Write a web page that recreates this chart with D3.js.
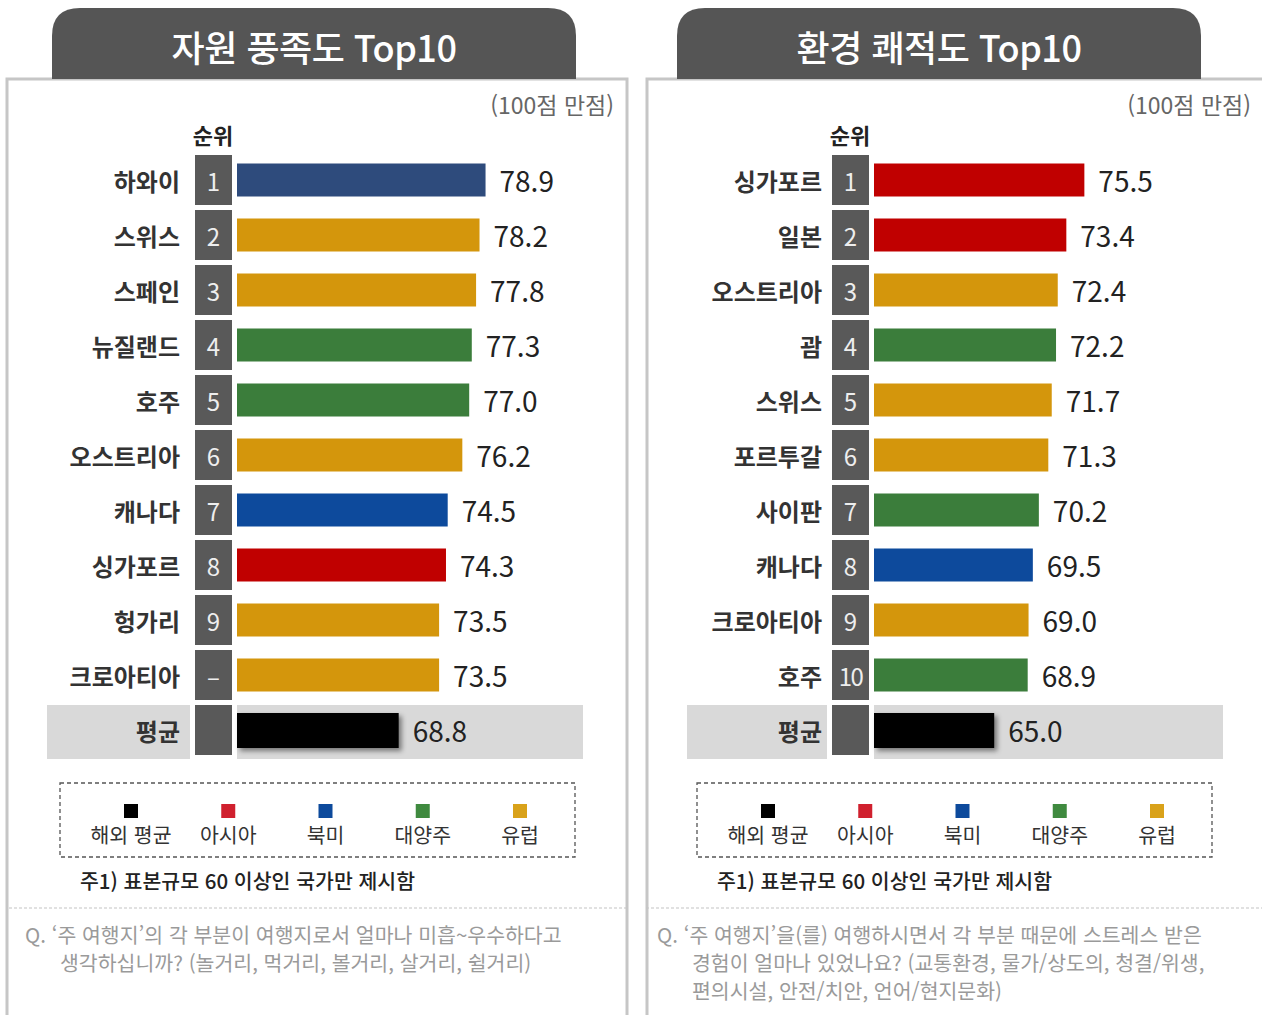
<!DOCTYPE html>
<html lang="ko">
<head>
  <meta charset="UTF-8">
  <title>Top10</title>
  <script src="https://d3js.org/d3.v7.min.js"></script>
  <style>
    body { margin: 0; background: #fff; }
    svg { display: block; font-family: "Noto Sans CJK KR", "Noto Sans", sans-serif; }
  </style>
</head>
<body>
<svg id="chart" width="1262" height="1015"></svg>
<script>
// 자원 풍족도 Top10
const leftTitle = "자원 풍족도 Top10";
const leftCountries = ["하와이", "스위스", "스페인", "뉴질랜드", "호주", "오스트리아", "캐나다", "싱가포르", "헝가리", "크로아티아"];
const leftValues = [78.9, 78.2, 77.8, 77.3, 77.0, 76.2, 74.5, 74.3, 73.5, 73.5];
const leftRanks = ["1", "2", "3", "4", "5", "6", "7", "8", "9", "–"];
const leftRegions = ["북미", "유럽", "유럽", "대양주", "대양주", "유럽", "북미", "아시아", "유럽", "유럽"];
const leftAverage = 68.8;
const leftQuestion = ["Q. ‘주 여행지’의 각 부분이 여행지로서 얼마나 미흡~우수하다고",
                      "생각하십니까?  (놀거리, 먹거리, 볼거리, 살거리, 쉴거리)"];

// 환경 쾌적도 Top10
const rightTitle = "환경 쾌적도 Top10";
const rightCountries = ["싱가포르", "일본", "오스트리아", "괌", "스위스", "포르투갈", "사이판", "캐나다", "크로아티아", "호주"];
const rightValues = [75.5, 73.4, 72.4, 72.2, 71.7, 71.3, 70.2, 69.5, 69.0, 68.9];
const rightRanks = ["1", "2", "3", "4", "5", "6", "7", "8", "9", "10"];
const rightRegions = ["아시아", "아시아", "유럽", "대양주", "유럽", "유럽", "대양주", "북미", "유럽", "대양주"];
const rightAverage = 65.0;
const rightQuestion = ["Q. ‘주 여행지’을(를) 여행하시면서 각 부분 때문에 스트레스 받은",
                       "경험이 얼마나 있었나요? (교통환경, 물가/상도의, 청결/위생,",
                       "편의시설, 안전/치안, 언어/현지문화)"];

const legendLabels = ["해외 평균", "아시아", "북미", "대양주", "유럽"];
const avgLabel = "평균";

const regionColor = {
  "해외 평균": "#000000",
  "아시아": "#c00000",
  "북미": "#0d4a9c",
  "대양주": "#3b7d3b",
  "유럽": "#d4960c"
};
const barColorOverride = { "하와이": "#2e4b7c" };
const legendColor = { "해외 평균": "#000", "아시아": "#d0202e", "북미": "#0d4a9c", "대양주": "#3f8a3f", "유럽": "#d9a21a" };

const svg = d3.select("#chart");
const fmt = d3.format(".1f");

const defs = svg.append("defs");
const shadow = defs.append("filter").attr("id", "shadow")
  .attr("x", "-10%").attr("y", "-30%").attr("width", "130%").attr("height", "180%");
shadow.append("feDropShadow").attr("dx", 3).attr("dy", 3).attr("stdDeviation", 2.5)
  .attr("flood-color", "#000").attr("flood-opacity", 0.45);

function tabPath(x0, x1, y0, y1, r) {
  return `M${x0},${y1} L${x0},${y0 + r} Q${x0},${y0} ${x0 + r},${y0} L${x1 - r},${y0} Q${x1},${y0} ${x1},${y0 + r} L${x1},${y1} Z`;
}

function drawPanel(p) {
  const g = svg.append("g").attr("transform", `translate(${p.dx},0)`);

  // panel frame
  g.append("rect")
    .attr("x", p.frameX).attr("y", 79).attr("width", p.frameW).attr("height", 960)
    .attr("fill", "#fff").attr("stroke", "#c6c6c6").attr("stroke-width", 3);

  // title tab
  g.append("path")
    .attr("d", tabPath(52 + p.tabShift, 576 + p.tabShift, 8, 79, 28))
    .attr("fill", "#555555");
  g.append("text")
    .attr("x", 314 + p.tabShift).attr("y", 46)
    .attr("text-anchor", "middle").attr("dominant-baseline", "central")
    .attr("fill", "#fff").attr("font-size", 36).attr("font-weight", 500)
    .attr("letter-spacing", -0.5)
    .text(p.title);

  g.append("text")
    .attr("x", 614).attr("y", 104)
    .attr("text-anchor", "end").attr("dominant-baseline", "central")
    .attr("fill", "#666").attr("font-size", 23)
    .text("(100점 만점)");

  g.append("text")
    .attr("x", 213).attr("y", 134)
    .attr("text-anchor", "middle").attr("dominant-baseline", "central")
    .attr("fill", "#222").attr("font-size", 22).attr("font-weight", 700)
    .text("순위");

  const rows = p.countries.map((c, i) => ({
    country: c, value: p.values[i], rank: p.ranks[i],
    color: barColorOverride[c] && p.useOverride ? barColorOverride[c] : regionColor[p.regions[i]]
  }));
  rows.push({ country: avgLabel, value: p.average, rank: "", color: regionColor["해외 평균"], avg: true });

  const y = d3.scalePoint()
    .domain(rows.map(d => d.country))
    .range([180, 730]);

  const x = d3.scaleLinear()
    .domain(p.domain)
    .range([237, 237 + p.width]);

  // average row background
  g.append("rect").attr("x", 47 + p.bgShift).attr("y", 705).attr("width", 143 - p.bgShift).attr("height", 54).attr("fill", "#d9d9d9");
  g.append("rect").attr("x", 237).attr("y", 705).attr("width", 346 + p.bgShift).attr("height", 54).attr("fill", "#d9d9d9");

  // rank boxes
  g.append("g").selectAll("rect")
    .data(rows)
    .join("rect")
    .attr("x", 195).attr("width", 37)
    .attr("y", d => y(d.country) - 25)
    .attr("height", 50)
    .attr("fill", "#595959");

  g.append("g").selectAll("text")
    .data(rows.filter(d => !d.avg))
    .join("text")
    .attr("x", 213.5).attr("y", d => y(d.country))
    .attr("text-anchor", "middle").attr("dominant-baseline", "central")
    .attr("fill", "#eee").attr("font-size", 24)
    .attr("letter-spacing", d => d.rank.length > 1 ? -1.5 : 0)
    .text(d => d.rank);

  // country labels
  g.append("g").selectAll("text")
    .data(rows)
    .join("text")
    .attr("x", 180 + p.labelShift).attr("y", d => y(d.country))
    .attr("text-anchor", "end").attr("dominant-baseline", "central")
    .attr("fill", "#333").attr("font-size", 24).attr("font-weight", 700)
    .text(d => d.country);

  // bars
  g.append("g").selectAll("rect")
    .data(rows)
    .join("rect")
    .attr("x", x(p.domain[0]))
    .attr("y", d => y(d.country) - (d.avg ? 17 : 16.5))
    .attr("height", d => d.avg ? 35 : 33)
    .attr("width", d => x(d.value) - x(p.domain[0]))
    .attr("fill", d => d.color)
    .attr("filter", d => d.avg ? "url(#shadow)" : null);

  // value labels
  g.append("g").selectAll("text")
    .data(rows)
    .join("text")
    .attr("x", d => x(d.value) + 14)
    .attr("y", d => y(d.country))
    .attr("dominant-baseline", "central")
    .attr("fill", "#222").attr("font-size", 28)
    .text(d => fmt(d.value));

  // legend
  g.append("rect")
    .attr("x", 60).attr("y", 783).attr("width", 515).attr("height", 74)
    .attr("fill", "none").attr("stroke", "#555").attr("stroke-width", 1.3)
    .attr("stroke-dasharray", "4,3");

  const lx = d3.scalePoint().domain(legendLabels).range([131, 520]);
  const leg = g.append("g").selectAll("g")
    .data(legendLabels)
    .join("g")
    .attr("transform", d => `translate(${lx(d)},0)`);
  leg.append("rect")
    .attr("x", -7).attr("y", 804).attr("width", 14).attr("height", 14)
    .attr("fill", d => legendColor[d]);
  leg.append("text")
    .attr("y", 834).attr("text-anchor", "middle").attr("dominant-baseline", "central")
    .attr("fill", "#333").attr("font-size", 20.5)
    .text(d => d);

  g.append("text")
    .attr("x", 80).attr("y", 880).attr("dominant-baseline", "central")
    .attr("fill", "#222").attr("font-size", 20.5).attr("font-weight", 500)
    .text("주1) 표본규모 60 이상인 국가만 제시함");

  // separator
  g.append("line")
    .attr("x1", 9).attr("x2", p.sepEnd).attr("y1", 908).attr("y2", 908)
    .attr("stroke", "#c4c4c4").attr("stroke-width", 1.2).attr("stroke-dasharray", "3,2");

  // question
  g.append("g").selectAll("text")
    .data(p.question)
    .join("text")
    .attr("x", (d, i) => i === 0 ? p.qx : p.qx + 35)
    .attr("y", (d, i) => 934 + i * 28)
    .attr("dominant-baseline", "central")
    .attr("fill", "#9a9a9a").attr("font-size", 20.5)
    .text(d => d);
}

drawPanel({
  dx: 0, tabShift: 0, frameX: 7, frameW: 620, sepEnd: 626, labelShift: 0, bgShift: 0,
  title: leftTitle, countries: leftCountries, values: leftValues, ranks: leftRanks,
  regions: leftRegions, average: leftAverage, question: leftQuestion,
  domain: [50, 80], width: 258, qx: 25, useOverride: true
});

drawPanel({
  dx: 637, tabShift: -12, frameX: 10, frameW: 640, sepEnd: 640, labelShift: 5, bgShift: 3,
  title: rightTitle, countries: rightCountries, values: rightValues, ranks: rightRanks,
  regions: rightRegions, average: rightAverage, question: rightQuestion,
  domain: [51, 80], width: 249, qx: 20, useOverride: false
});
</script>
</body>
</html>
